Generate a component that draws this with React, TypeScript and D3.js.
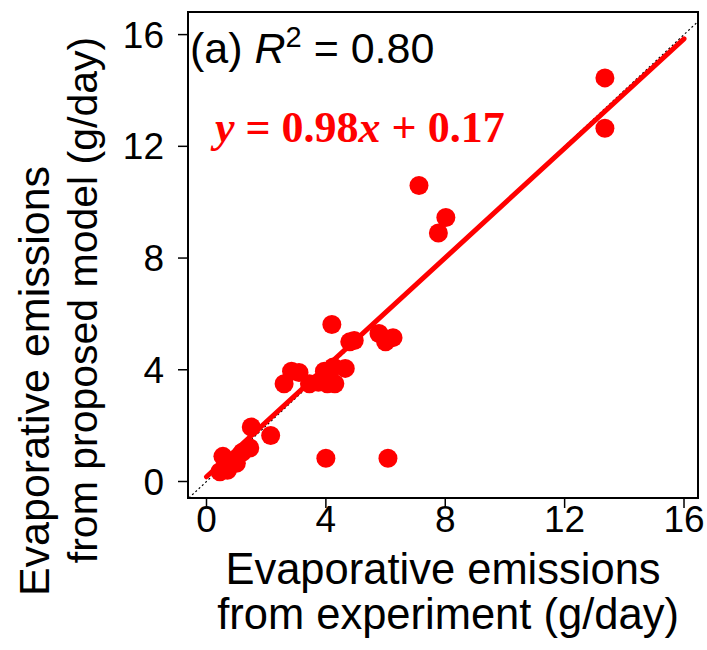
import React from "react";
import * as d3 from "d3";

// Observed (experiment) vs. modelled evaporative emissions, g/day
const expX = [0.45, 0.7, 0.55, 1.0, 1.2, 1.45, 1.5, 2.15, 2.6, 2.85, 3.1, 3.45, 3.75, 3.95, 4.25, 4.3, 4.65, 4.05, 4.0, 4.2, 4.8, 4.95, 5.78, 6.0, 6.25, 6.08, 7.12, 7.77, 8.02, 13.35, 13.35];
const modelY = [0.35, 0.4, 0.9, 0.65, 1.05, 1.2, 1.95, 1.65, 3.5, 3.95, 3.9, 3.5, 3.55, 3.95, 4.1, 3.5, 4.05, 3.5, 0.83, 5.62, 5.0, 5.05, 5.3, 5.0, 5.15, 0.83, 10.6, 8.9, 9.45, 14.45, 12.65];
const tickValues = [0, 4, 8, 12, 16];
const fitSlope = 0.98;
const fitIntercept = 0.17;
const fitRange = [0, 16];
const r2Label = "0.80";
const xTitle = ["Evaporative emissions", "from experiment (g/day)"];
const yTitle = ["Evaporative emissions", "from proposed model (g/day)"];

const W = 707, H = 650;
const box = { left: 188, right: 698, top: 12, bottom: 498 };

export default function App() {
  const x = d3.scaleLinear().domain([0, 16]).range([206.5, 684]);
  const y = d3.scaleLinear().domain([0, 16]).range([481.5, 34.6]);
  const sans = "'Liberation Sans', Arial, sans-serif";
  const serif = "'Liberation Serif', 'Times New Roman', serif";

  const xMin = x.invert(box.left), xMax = x.invert(box.right);
  const yMin = y.invert(box.bottom), yMax = y.invert(box.top);
  const lo = Math.max(xMin, yMin), hi = Math.min(xMax, yMax);
  const line = d3.line<[number, number]>().x(d => x(d[0])).y(d => y(d[1]));
  const fitPts: [number, number][] = fitRange.map(v => [v, fitSlope * v + fitIntercept]);

  return (
    <svg width={W} height={H} style={{ position: "absolute", left: 0, top: 0, background: "#fff" }}>
      <defs>
        <clipPath id="plotclip">
          <rect x={box.left} y={box.top} width={box.right - box.left} height={box.bottom - box.top} />
        </clipPath>
      </defs>
      <rect width={W} height={H} fill="#fff" />
      {/* 1:1 line */}
      <g clipPath="url(#plotclip)">
        <path d={line([[lo, lo], [hi, hi]]) || ""} stroke="#000" strokeWidth={1.2} strokeDasharray="2,2.5" fill="none" />
        {expX.map((v, i) => (
          <circle key={i} cx={x(v)} cy={y(modelY[i])} r={9.5} fill="#ff0000" />
        ))}
        <path d={line(fitPts) || ""} stroke="#ff0000" strokeWidth={5} fill="none" strokeLinecap="round" />
      </g>
      {/* box */}
      <rect x={box.left} y={box.top} width={box.right - box.left} height={box.bottom - box.top} fill="none" stroke="#000" strokeWidth={2} />
      {/* x ticks */}
      {tickValues.map(t => (
        <g key={"x" + t}>
          <line x1={x(t)} x2={x(t)} y1={box.bottom} y2={box.bottom + 10} stroke="#000" strokeWidth={1.5} />
          <text x={x(t)} y={532} textAnchor="middle" fontFamily={sans} fontSize={37} fill="#000">{t}</text>
        </g>
      ))}
      {/* y ticks */}
      {tickValues.map(t => (
        <g key={"y" + t}>
          <line x1={box.left - 10} x2={box.left} y1={y(t)} y2={y(t)} stroke="#000" strokeWidth={1.5} />
          <text x={164} y={y(t) + 13} textAnchor="end" fontFamily={sans} fontSize={37} fill="#000">{t}</text>
        </g>
      ))}
      {/* x title */}
      <text x={443} y={584} textAnchor="middle" fontFamily={sans} fontSize={43.5} fill="#000">{xTitle[0]}</text>
      <text x={448} y={629} textAnchor="middle" fontFamily={sans} fontSize={43.5} fill="#000">{xTitle[1]}</text>
      {/* y title */}
      <text transform="translate(49,381) rotate(-90)" textAnchor="middle" fontFamily={sans} fontSize={43} fill="#000">{yTitle[0]}</text>
      <text transform="translate(97,300) rotate(-90)" textAnchor="middle" fontFamily={sans} fontSize={41} fill="#000">{yTitle[1]}</text>
      {/* R2 annotation */}
      <text x={190} y={63} fontFamily={sans} fontSize={43} fill="#000">
        <tspan>(a) </tspan>
        <tspan fontStyle="italic">R</tspan>
        <tspan fontSize={29} dy={-16}>2</tspan>
        <tspan dy={16}>{" = " + r2Label}</tspan>
      </text>
      {/* equation */}
      <text x={215} y={142} fontFamily={serif} fontSize={44} fontWeight="bold" fill="#ff0000">
        <tspan fontStyle="italic">y</tspan>
        <tspan>{" = " + fitSlope.toFixed(2)}</tspan>
        <tspan fontStyle="italic">x</tspan>
        <tspan>{" + " + fitIntercept.toFixed(2)}</tspan>
      </text>
    </svg>
  );
}
